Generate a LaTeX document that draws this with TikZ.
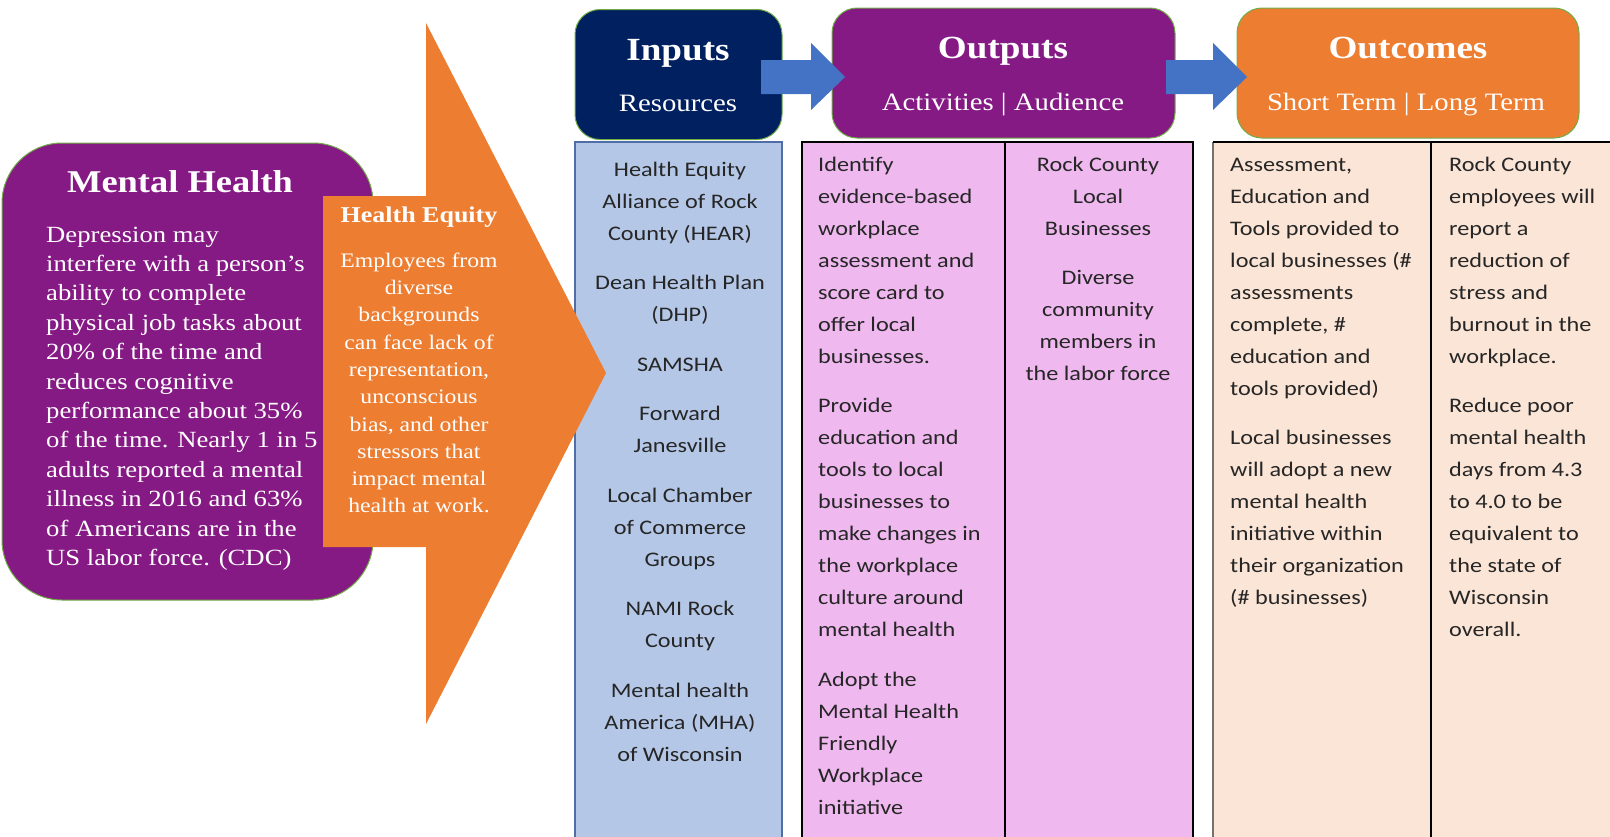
\documentclass[tikz,border=0pt]{standalone}
\usepackage{fontspec}
\setmainfont{Liberation Serif}
\newfontfamily\georg[FakeStretch=1.15]{Liberation Serif}
\newfontfamily\calib[FakeStretch=1.17]{Carlito}
\definecolor{mhpurple}{HTML}{861A85}
\definecolor{navyhdr}{HTML}{002060}
\definecolor{orangeq}{HTML}{ED7D31}
\definecolor{arrowblue}{HTML}{4472C4}
\definecolor{inblue}{HTML}{B4C7E7}
\definecolor{inborder}{HTML}{4F6EA8}
\definecolor{pinkc}{HTML}{EFB8EF}
\definecolor{peach}{HTML}{FBE5D6}
\definecolor{greenedge}{HTML}{70AD47}
\definecolor{coltext}{HTML}{262626}
\tikzset{
  hdrbox/.style={draw=greenedge, line width=1pt, rounded corners=25pt, inner sep=0pt},
  hdrtitle/.style={font=\georg\bfseries\fontsize{32.3}{36}\selectfont, text=white, inner sep=0pt, anchor=base},
  hdrsub/.style={font=\georg\fontsize{25}{30}\selectfont, text=white, inner sep=0pt, anchor=base},
  coltxt/.style={font=\calib\fontsize{20.7}{32}\selectfont, text=coltext, inner sep=0pt},
  blackline/.style={draw=black, line width=2pt},
}
\begin{document}
\begin{tikzpicture}[x=1pt,y=-1pt]
\useasboundingbox (0,0) rectangle (1610,836);
\clip (0,0) rectangle (1610,836);

% ---- columns
\filldraw[fill=inblue, draw=inborder, line width=1.2pt] (575,142) rectangle (782,860);
\fill[pinkc] (802,142) rectangle (1193,860);
\draw[blackline] (802,860) -- (802,142) -- (1193,142) -- (1193,860);
\draw[blackline] (1005,142) -- (1005,860);
\fill[peach] (1213,142) rectangle (1620,860);
\draw[draw=black!55, line width=1.5pt] (1213,860) -- (1213,142);
\draw[blackline, line width=1.6pt] (1213,142) -- (1620,142);
\draw[blackline] (1431,142) -- (1431,860);

% ---- Mental Health box and equity arrow
\node[draw=greenedge, fill=mhpurple, line width=1pt, rounded corners=60pt,
      minimum width=371pt, minimum height=457pt, inner sep=0pt] (mhbox) at (187.5,371.5) {};
\fill[orangeq] (323,196) -- (426,196) -- (426,23) -- (606,373) -- (426,724) -- (426,547) -- (323,547) -- cycle;

\node[font=\georg\bfseries\fontsize{31.7}{36}\selectfont, text=white, inner sep=0pt, anchor=base] (mhtitle) at (180,192) {Mental Health};
\node[font=\georg\fontsize{23.2}{29.4}\selectfont, text=white, inner sep=0pt, anchor=north west, align=left] (mhbody) at (46,221.4)
 {\strut Depression may\\
  interfere with a person’s\\
  ability to complete\\
  physical job tasks about\\
  20\% of the time and\\
  reduces cognitive\\
  performance about 35\%\\
  of the time. Nearly 1 in 5\\
  adults reported a mental\\
  illness in 2016 and 63\%\\
  of Americans are in the\\
  US labor force. (CDC)};

\node[font=\georg\bfseries\fontsize{22.6}{27}\selectfont, text=white, inner sep=0pt, anchor=base] (eqtitle) at (419,222) {Health Equity};
\node[font=\georg\fontsize{20.6}{27.3}\selectfont, text=white, inner sep=0pt, anchor=north, align=center] (eqbody) at (419,247.9)
 {\strut Employees from\\
  diverse\\
  backgrounds\\
  can face lack of\\
  representation,\\
  unconscious\\
  bias, and other\\
  stressors that\\
  impact mental\\
  health at work.};

% ---- header boxes
\node[hdrbox, fill=navyhdr, minimum width=207pt, minimum height=130pt] (inputs) at (678.5,74.5) {};
\node[hdrbox, fill=mhpurple, minimum width=343pt, minimum height=130pt] (outputs) at (1003.5,73) {};
\node[hdrbox, fill=orangeq, minimum width=342pt, minimum height=130pt] (outcomes) at (1408,73) {};

\fill[arrowblue] (761,60) -- (811,60) -- (811,43) -- (845,77) -- (811,110) -- (811,94) -- (761,94) -- cycle;
\fill[arrowblue] (1166,60) -- (1213,60) -- (1213,43) -- (1247,77) -- (1213,110) -- (1213,94) -- (1166,94) -- cycle;

\node[hdrtitle] (inT) at (678,60) {Inputs};
\node[hdrsub] (inS) at (678,111) {Resources};
\node[hdrtitle] (outT) at (1003,58) {Outputs};
\node[hdrsub] (outS) at (1003,110) {Activities | Audience};
\node[hdrtitle] (ocT) at (1408,58) {Outcomes};
\node[hdrsub] (ocS) at (1406,110) {Short Term | Long Term};

% ---- column texts
\node[coltxt, anchor=north, align=center] (inputsTxt) at (680,153.6)
 {\strut Health Equity\\ Alliance of Rock\\ County (HEAR)\\[17.5pt]
  Dean Health Plan\\ (DHP)\\[17.5pt]
  SAMSHA\\[17.5pt]
  Forward\\ Janesville\\[17.5pt]
  Local Chamber\\ of Commerce\\ Groups\\[17.5pt]
  NAMI Rock\\ County\\[17.5pt]
  Mental health\\ America (MHA)\\ of Wisconsin};

\node[coltxt, anchor=north west, align=left] (actTxt) at (818,148.6)
 {\strut Identify\\ evidence-based\\ workplace\\ assessment and\\ score card to\\ offer local\\ businesses.\\[17.5pt]
  Provide\\ education and\\ tools to local\\ businesses to\\ make changes in\\ the workplace\\ culture around\\ mental health\\[17.5pt]
  Adopt the\\ Mental Health\\ Friendly\\ Workplace\\ initiative};

\node[coltxt, anchor=north, align=center] (audTxt) at (1098,148.6)
 {\strut Rock County\\ Local\\ Businesses\\[17.5pt]
  Diverse\\ community\\ members in\\ the labor force};

\node[coltxt, anchor=north west, align=left] (shortTxt) at (1230,148.6)
 {\strut Assessment,\\ Education and\\ Tools provided to\\ local businesses (\#\\ assessments\\ complete, \#\\ education and\\ tools provided)\\[17.5pt]
  Local businesses\\ will adopt a new\\ mental health\\ initiative within\\ their organization\\ (\# businesses)};

\node[coltxt, anchor=north west, align=left] (longTxt) at (1449,148.6)
 {\strut Rock County\\ employees will\\ report a\\ reduction of\\ stress and\\ burnout in the\\ workplace.\\[17.5pt]
  Reduce poor\\ mental health\\ days from 4.3\\ to 4.0 to be\\ equivalent to\\ the state of\\ Wisconsin\\ overall.};
\end{tikzpicture}
\end{document}
